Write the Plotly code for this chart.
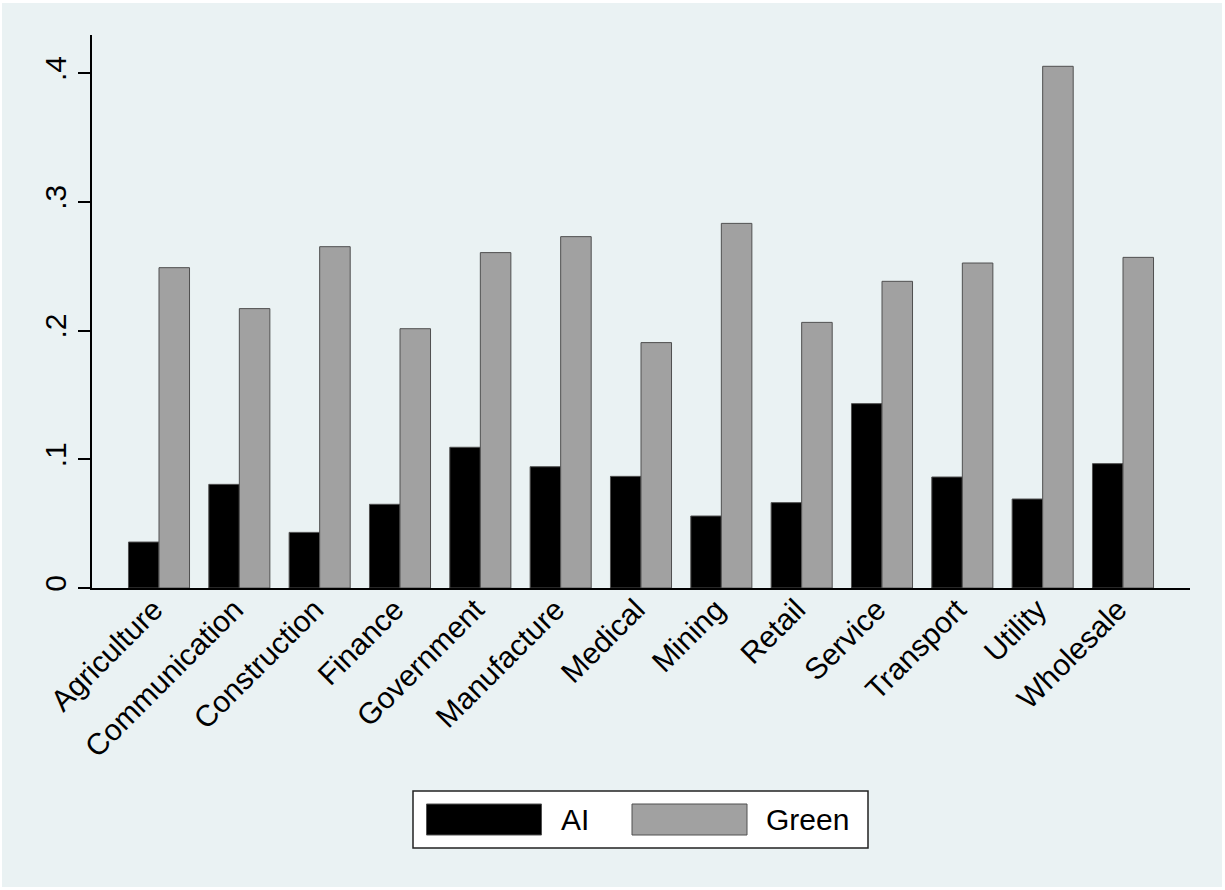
import plotly.graph_objects as go

categories = ["Agriculture", "Communication", "Construction", "Finance", "Government",
              "Manufacture", "Medical", "Mining", "Retail", "Service", "Transport",
              "Utility", "Wholesale"]
ai_values = [0.0357, 0.0805, 0.0432, 0.0650, 0.1093, 0.0942, 0.0867,
             0.0559, 0.0663, 0.1432, 0.0862, 0.0691, 0.0966]
green_values = [0.2488, 0.2170, 0.2651, 0.2014, 0.2605, 0.2729, 0.1906,
                0.2832, 0.2063, 0.2382, 0.2524, 0.4052, 0.2568]
y_tick_vals = [0, 0.1, 0.2, 0.3, 0.4]
y_tick_text = ["0", ".1", ".2", ".3", ".4"]
series_names = ["AI", "Green"]

W, H = 1225, 890
L, R, T, B = 92, 35, 35, 302
PW, PH = W - L - R, H - T - B
BG = "#EAF2F3"
FONT = "Arial, Liberation Sans, sans-serif"
AI_COLOR = "#000000"
GREEN_COLOR = "#A1A1A1"
EDGE = "#505050"
FS = 30


def px(x):
    return (x - L) / PW


def py(y):
    return (T + PH - y) / PH


fig = go.Figure()
fig.add_trace(go.Bar(x=categories, y=ai_values, name=series_names[0],
                     marker=dict(color=AI_COLOR, line=dict(color=EDGE, width=1)),
                     showlegend=False))
fig.add_trace(go.Bar(x=categories, y=green_values, name=series_names[1],
                     marker=dict(color=GREEN_COLOR, line=dict(color=EDGE, width=1)),
                     showlegend=False))

shapes = [
    # outer light background with thin white border
    dict(type="rect", xref="paper", yref="paper", layer="below",
         x0=px(2), x1=px(1222), y0=py(887), y1=py(3),
         fillcolor=BG, line=dict(width=0)),
    # legend box
    dict(type="rect", xref="paper", yref="paper",
         x0=px(413), x1=px(868), y0=py(848), y1=py(791),
         fillcolor="white", line=dict(color="#222222", width=1.5)),
    dict(type="rect", xref="paper", yref="paper",
         x0=px(426.5), x1=px(541.5), y0=py(835), y1=py(804),
         fillcolor=AI_COLOR, line=dict(color=EDGE, width=1)),
    dict(type="rect", xref="paper", yref="paper",
         x0=px(632), x1=px(747), y0=py(835), y1=py(804),
         fillcolor=GREEN_COLOR, line=dict(color=EDGE, width=1)),
]
annotations = [
    dict(text=series_names[0], xref="paper", yref="paper", x=px(559), y=py(819.5),
         xanchor="left", yanchor="middle", showarrow=False,
         font=dict(family=FONT, size=FS, color="black")),
    dict(text=series_names[1], xref="paper", yref="paper", x=px(764), y=py(819.5),
         xanchor="left", yanchor="middle", showarrow=False,
         font=dict(family=FONT, size=FS, color="black")),
]

fig.update_layout(
    width=W, height=H,
    margin=dict(l=L, r=R, t=T, b=B, autoexpand=False),
    paper_bgcolor="white",
    plot_bgcolor="white",
    barmode="group",
    bargap=0.24,
    bargroupgap=0,
    font=dict(family=FONT, size=FS, color="black"),
    shapes=shapes,
    annotations=annotations,
    showlegend=False,
)
fig.update_xaxes(
    range=[-0.834, len(categories) - 1 + 0.834],
    tickangle=-45,
    ticks="",
    ticklabelshift=-5,
    ticklabelstandoff=-10,
    showline=True, linecolor="black", linewidth=2,
    showgrid=False, zeroline=False,
    tickfont=dict(family=FONT, size=FS, color="black"),
)
fig.update_yaxes(
    range=[0, PH / 1287.5],
    tickvals=y_tick_vals, ticktext=y_tick_text,
    tickangle=-90,
    ticks="outside", ticklen=12, tickwidth=1.5, tickcolor="black",
    showline=True, linecolor="black", linewidth=1.5,
    showgrid=True, gridcolor=BG, gridwidth=2.5,
    zeroline=False,
    tickfont=dict(family=FONT, size=FS, color="black"),
)

fig.write_html("out.html", config={"displayModeBar": False},
               post_script="document.body.style.margin='0';")
